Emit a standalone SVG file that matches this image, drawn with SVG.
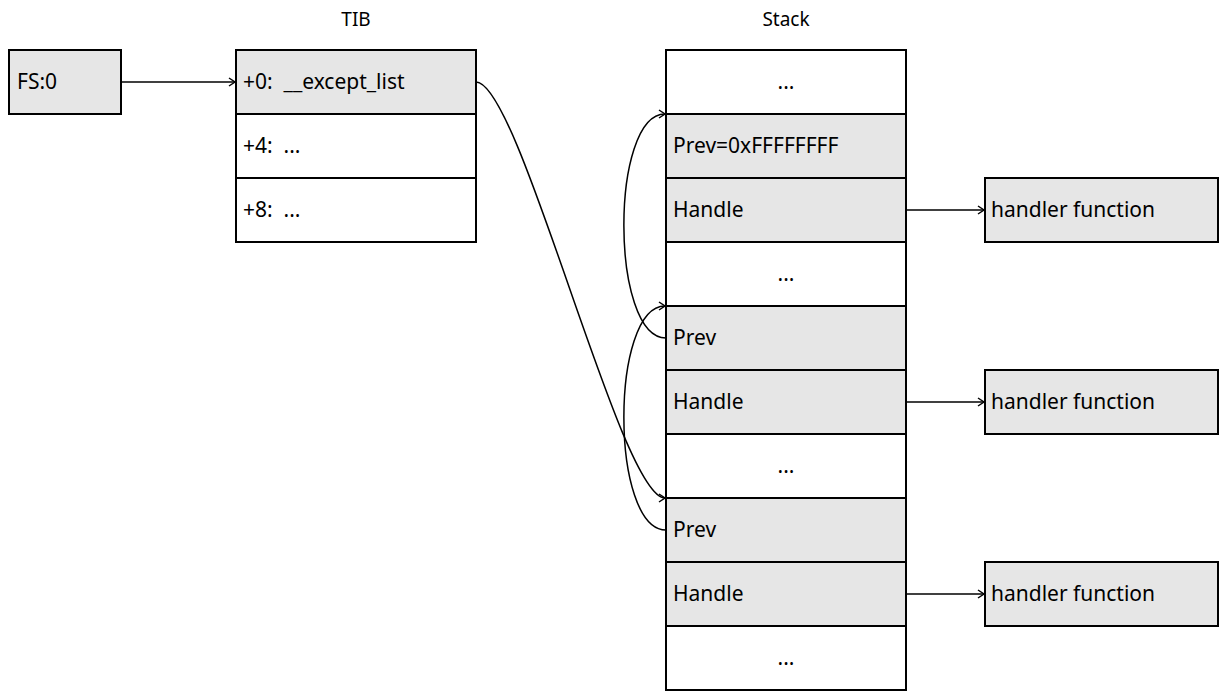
<svg xmlns="http://www.w3.org/2000/svg" width="1220" height="693" viewBox="0 0 1220 693">
<style>
text{font-family:"Noto Sans","Liberation Sans",sans-serif;font-size:21px;fill:#000;white-space:pre}
.t{font-size:19px}
.g{fill:#e6e6e6;stroke:#000;stroke-width:2}
.w{fill:#fff;stroke:#000;stroke-width:2}
.c{fill:none;stroke:#000;stroke-width:1.5}
.m{text-anchor:middle}
</style>
<defs>
<marker id="a" markerWidth="10" markerHeight="10" refX="8" refY="5" orient="auto" markerUnits="userSpaceOnUse">
<path d="M2,1 L8,5 L2,9" fill="none" stroke="#000" stroke-width="1.5"/>
</marker>
</defs>
<rect width="1220" height="693" fill="#fff"/>
<text x="356" y="26" class="m t">TIB</text>
<text x="786" y="26" class="m t">Stack</text>
<g id="fs"><rect class="g" x="9" y="50" width="112" height="64"/><text x="17" y="89">FS:0</text></g>
<g id="tib">
<rect class="g" x="236" y="50" width="240" height="64"/><text x="243" y="89" xml:space="preserve">+0:  __except_list</text>
<rect class="w" x="236" y="114" width="240" height="64"/><text x="243" y="153" xml:space="preserve">+4:  ...</text>
<rect class="w" x="236" y="178" width="240" height="64"/><text x="243" y="217" xml:space="preserve">+8:  ...</text>
</g>
<g id="stack">
<rect class="w" x="666" y="50" width="240" height="64"/><text x="786" y="89" class="m">...</text>
<rect class="g" x="666" y="114" width="240" height="64"/><text x="673" y="153">Prev=0xFFFFFFFF</text>
<rect class="g" x="666" y="178" width="240" height="64"/><text x="673" y="217">Handle</text>
<rect class="w" x="666" y="242" width="240" height="64"/><text x="786" y="281" class="m">...</text>
<rect class="g" x="666" y="306" width="240" height="64"/><text x="673" y="345">Prev</text>
<rect class="g" x="666" y="370" width="240" height="64"/><text x="673" y="409">Handle</text>
<rect class="w" x="666" y="434" width="240" height="64"/><text x="786" y="473" class="m">...</text>
<rect class="g" x="666" y="498" width="240" height="64"/><text x="673" y="537">Prev</text>
<rect class="g" x="666" y="562" width="240" height="64"/><text x="673" y="601">Handle</text>
<rect class="w" x="666" y="626" width="240" height="64"/><text x="786" y="665" class="m">...</text>
</g>
<g id="h1"><rect class="g" x="985" y="178" width="233" height="64"/><text x="991" y="217">handler function</text></g>
<g id="h2"><rect class="g" x="985" y="370" width="233" height="64"/><text x="991" y="409">handler function</text></g>
<g id="h3"><rect class="g" x="985" y="562" width="233" height="64"/><text x="991" y="601">handler function</text></g>
<g id="connectors">
<path class="c" d="M121,82 L235,82" marker-end="url(#a)"/>
<path class="c" d="M476,82 C520,82 620,498 665,498" marker-end="url(#a)"/>
<path class="c" d="M666,338 C610,338 610,114 665,114" marker-end="url(#a)"/>
<path class="c" d="M666,530 C610,530 610,306 665,306" marker-end="url(#a)"/>
<path class="c" d="M906,210 L984,210" marker-end="url(#a)"/>
<path class="c" d="M906,402 L984,402" marker-end="url(#a)"/>
<path class="c" d="M906,594 L984,594" marker-end="url(#a)"/>
</g>
</svg>
